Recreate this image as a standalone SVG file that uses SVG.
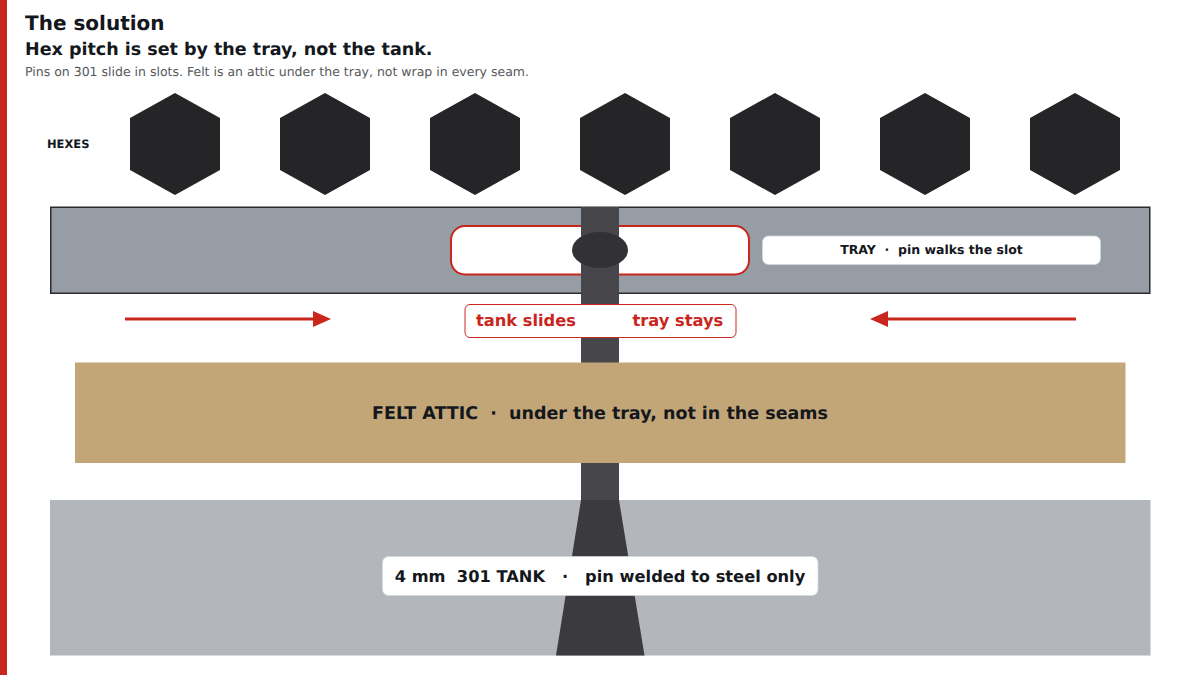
<svg xmlns="http://www.w3.org/2000/svg" width="1200" height="675" viewBox="0 0 1200 675">
<style>
text{font-family:"DejaVu Sans",sans-serif;fill:#14171c;text-rendering:geometricPrecision;white-space:pre}
.b{font-weight:700}
.m{text-anchor:middle}
.hex{fill:#252527}
.lab{fill:#fff;stroke:#d5d7da;stroke-width:.75}
</style>
<defs>
<polygon id="h" class="hex" points="0,-51 45,-26 45,26 0,51 -45,26 -45,-26"/>
<marker id="a" viewBox="0 0 18 16" markerWidth="18" markerHeight="16" markerUnits="userSpaceOnUse" refX="0" refY="8" orient="auto"><polygon points="0,0 18,8 0,16" fill="#c9261d"/></marker>
</defs>
<rect x="0" y="0" width="7" height="675" fill="#c9261d"/>
<g id="title">
<text class="b" x="25" y="30" font-size="20">The solution</text>
<text class="b" x="25" y="55" font-size="17.500">Hex pitch is set by the tray, not the tank.</text>
<text x="25" y="76" font-size="12.500" style="fill:#55585c">Pins on 301 slide in slots. Felt is an attic under the tray, not wrap in every seam.</text>
</g>
<g id="hexes">
<text class="b" x="47" y="148" font-size="11.500">HEXES</text>
<use href="#h" x="175" y="144"/>
<use href="#h" x="325" y="144"/>
<use href="#h" x="475" y="144"/>
<use href="#h" x="625" y="144"/>
<use href="#h" x="775" y="144"/>
<use href="#h" x="925" y="144"/>
<use href="#h" x="1075" y="144"/>
</g>
<g id="tank"><rect x="50" y="500" width="1100.500" height="155.500" fill="#b3b6bb"/></g>
<g id="tray"><rect x="50.750" y="207.250" width="1099" height="86" fill="#969da4" stroke="#2a2b2e" stroke-width="1.500"/>
<rect x="451" y="226" width="298" height="48.500" rx="14" fill="#fff" stroke="#c9261d" stroke-width="2"/></g>
<g id="pin">
<rect x="581" y="207" width="38" height="293" fill="#47464b"/>
<polygon points="581,500 619,500 644.500,655.500 556,655.500" fill="#3b3a3f"/>
<ellipse cx="600" cy="250" rx="28" ry="18" fill="#323136"/>
</g>
<g id="tray-label"><rect class="lab" x="762.500" y="236" width="338" height="28.500" rx="6"/>
<text class="b m" x="931.500" y="254.300" font-size="12.500">TRAY  ·  pin walks the slot</text></g>
<g id="connectors" fill="none" stroke="#c9261d" stroke-width="3">
<line x1="125" y1="319" x2="313" y2="319" marker-end="url(#a)"/>
<line x1="1076" y1="319" x2="888" y2="319" marker-end="url(#a)"/>
</g>
<g id="motion-label"><rect x="465" y="304.500" width="271" height="33" rx="5" fill="#fff" stroke="#c9261d"/>
<text class="b" x="476" y="326" font-size="16.250" style="fill:#c9261d">tank slides</text>
<text class="b" x="632.500" y="326" font-size="16.250" style="fill:#c9261d">tray stays</text></g>
<g id="felt"><rect x="75" y="362.500" width="1050.500" height="100.500" fill="#c2a678"/>
<text class="b m" x="600" y="419" font-size="17.500">FELT ATTIC  ·  under the tray, not in the seams</text></g>
<g id="tank-label"><rect class="lab" x="382.500" y="556.500" width="435.500" height="39" rx="6"/>
<text class="b m" x="600" y="581.500" font-size="16.250">4 mm  301 TANK   ·   pin welded to steel only</text></g>
</svg>
